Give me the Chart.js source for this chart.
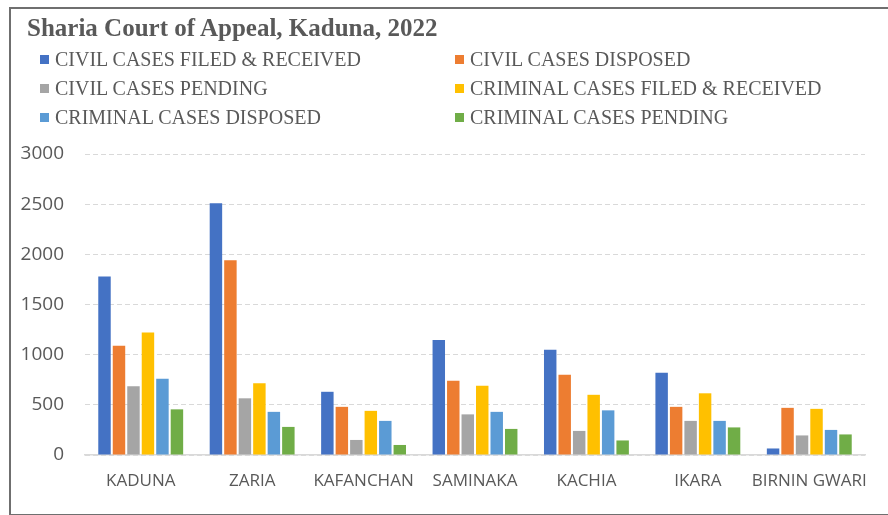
<!DOCTYPE html>
<html lang="en">
  <head>
    <meta charset="UTF-8" />
    <title>Sharia Court of Appeal, Kaduna, 2022</title>
    <style>
      html, body { margin: 0; padding: 0; background: #fff; }
      #wrap { position: relative; width: 888px; height: 515px; overflow: hidden; }
      #frame {
        position: absolute; left: 9px; top: 7px; width: 900px; height: 505px;
        border-top: 2px solid #6f6f6f; border-left: 2px solid #6f6f6f; border-bottom: 2px solid #6f6f6f;
      }
      #title {
        position: absolute; left: 27px; top: 15px; margin: 0;
        font: bold 25px/25px "Liberation Serif", serif; color: #595959; white-space: nowrap;
      }
      .leg {
        position: absolute; font: 20px/20px "Liberation Serif", serif; color: #595959; white-space: nowrap;
      }
      .leg i { position: absolute; left: -15px; top: 6px; width: 9px; height: 9px; }
      canvas { position: absolute; left: 0; top: 0; }
    </style>
  </head>
  <body>
    <div id="wrap">
      <div id="frame"></div>
      <canvas id="chart" width="888" height="515"></canvas>
      <div id="title">Sharia Court of Appeal, Kaduna, 2022</div>
      <div id="legend"></div>
    </div>
    <script src="https://cdn.jsdelivr.net/npm/chart.js"></script>
    <script>
      const courts = ["KADUNA", "ZARIA", "KAFANCHAN", "SAMINAKA", "KACHIA", "IKARA", "BIRNIN GWARI"];
      const civilFiled = [1780, 2510, 630, 1145, 1050, 820, 65];
      const civilDisposed = [1090, 1940, 480, 740, 800, 480, 470];
      const civilPending = [685, 565, 150, 405, 240, 340, 195];
      const criminalFiled = [1220, 715, 440, 690, 600, 615, 460];
      const criminalDisposed = [760, 430, 340, 430, 445, 340, 250];
      const criminalPending = [455, 280, 100, 260, 145, 275, 205];
      const yTicks = [0, 500, 1000, 1500, 2000, 2500, 3000];

      const series = [
        { label: "CIVIL CASES FILED & RECEIVED", data: civilFiled, color: "#4472C4" },
        { label: "CIVIL CASES DISPOSED", data: civilDisposed, color: "#ED7D31" },
        { label: "CIVIL CASES PENDING", data: civilPending, color: "#A5A5A5" },
        { label: "CRIMINAL CASES FILED & RECEIVED", data: criminalFiled, color: "#FFC000" },
        { label: "CRIMINAL CASES DISPOSED", data: criminalDisposed, color: "#5B9BD5" },
        { label: "CRIMINAL CASES PENDING", data: criminalPending, color: "#70AD47" },
      ];

      // legend: two columns, three rows
      const legend = document.getElementById("legend");
      series.forEach((s, i) => {
        const el = document.createElement("div");
        el.className = "leg";
        el.style.left = (i % 2 === 0 ? 55 : 470) + "px";
        el.style.top = (49 + Math.floor(i / 2) * 29) + "px";
        el.innerHTML = '<i style="background:' + s.color + '"></i>' + s.label;
        legend.appendChild(el);
      });

      new Chart(document.getElementById("chart"), {
        type: "bar",
        data: {
          labels: courts,
          datasets: series.map((s) => ({
            label: s.label,
            data: s.data,
            backgroundColor: s.color,
            borderWidth: 0,
            categoryPercentage: 0.78,
            barPercentage: 0.86,
          })),
        },
        options: {
          responsive: false,
          animation: false,
          devicePixelRatio: 1,
          layout: { padding: { left: 0, right: 23, top: 154, bottom: 0 } },
          plugins: { legend: { display: false }, tooltip: { enabled: false } },
          scales: {
            x: {
              grid: { display: false },
              border: { color: "#d9d9d9", width: 1.5 },
              ticks: { color: "#595959", font: { family: "'Open Sans', sans-serif", size: 17 }, padding: 8, maxRotation: 0, autoSkip: false },
              afterFit: (scale) => { scale.height = 60; },
            },
            y: {
              min: 0,
              max: 3000,
              afterBuildTicks: (scale) => { scale.ticks = yTicks.map((v) => ({ value: v })); },
              border: { display: false, dash: [5, 3] },
              grid: { color: "#d9d9d9", drawTicks: false },
              ticks: {
                color: "#595959",
                font: { family: "'Open Sans', sans-serif", size: 19 },
                padding: 21,
                callback: (v) => String(v),
              },
              afterFit: (scale) => { scale.width = 85; },
            },
          },
        },
      });
    </script>
  </body>
</html>
